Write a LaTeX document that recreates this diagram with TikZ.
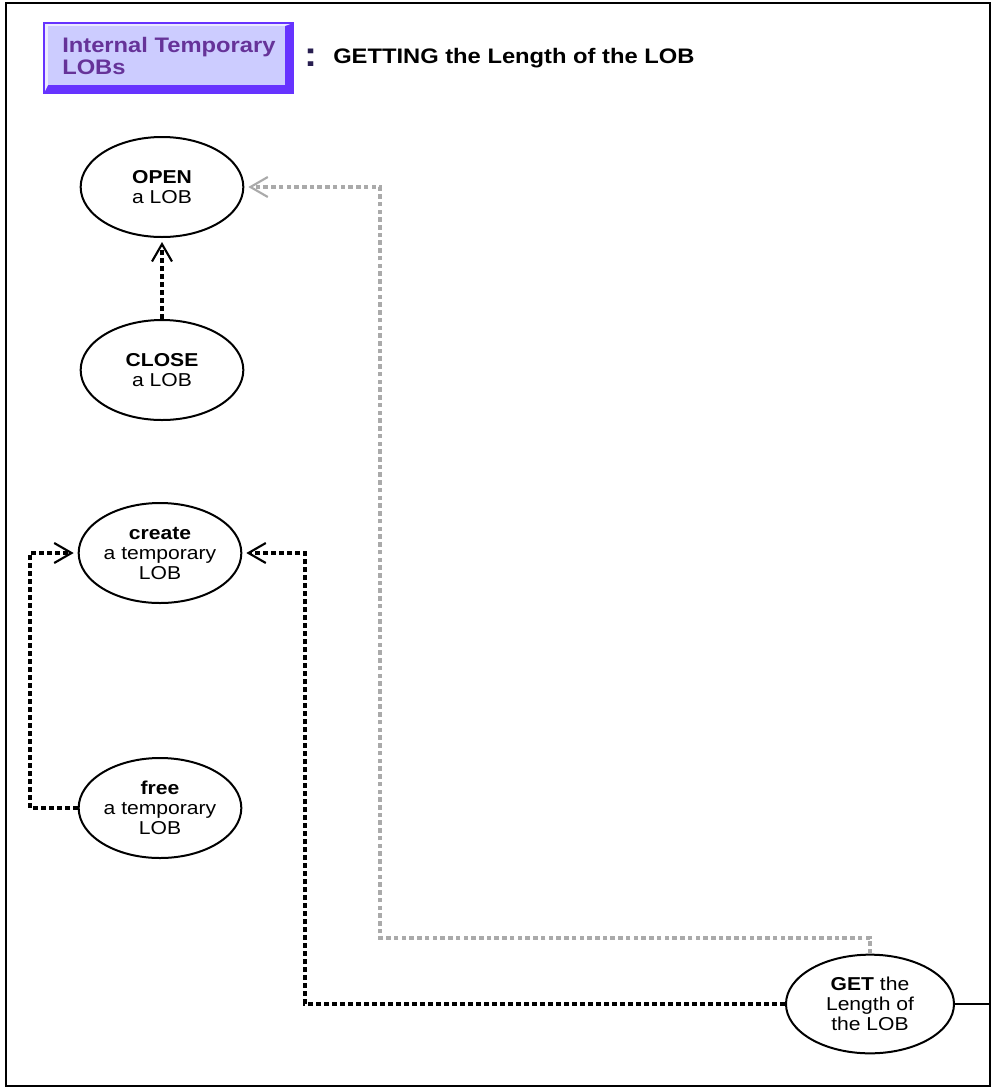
\documentclass[tikz,border=0pt]{standalone}
\usepackage{fontspec}
\usepackage{xcolor}
\usetikzlibrary{shapes.geometric,arrows.meta,positioning}
\newfontfamily\lobfont[FakeStretch=1.13]{Liberation Sans}
\definecolor{lobface}{RGB}{204,204,255}
\definecolor{lobdark}{RGB}{102,51,255}
\definecolor{lobtext}{RGB}{102,51,153}
\definecolor{lobgray}{RGB}{170,170,170}
\definecolor{lobcolon}{RGB}{40,30,80}

\begin{document}
\begin{tikzpicture}[
    x=0.75pt, y=-0.75pt,
    usecase/.style={ellipse, draw, line width=1.5pt, minimum width=122pt, minimum height=75pt,
        inner sep=0pt, align=center, font=\lobfont\fontsize{14}{15}\selectfont},
    uses/.style={line width=3pt, dash pattern=on 3.6pt off 2.4pt,
        -{Straight Barb[length=13pt,width=15pt,line width=1.6pt]}, shorten >=3pt},
    greyuses/.style={uses, lobgray, line width=2.5pt, dash pattern=on 3.4pt off 2.4pt}
]
    \useasboundingbox (0,0) rectangle (993,1090);
    \draw[line width=2pt] (6,3) rectangle (990,1086);

    % Header button
    \fill[lobdark] (44,23) rectangle (293,93);
    \fill[white!60!lobface] (44,23) -- (293,23) -- (285,26) -- (48,26) -- (48,85) -- (44,93) -- cycle;
    \fill[lobface] (48,26) rectangle (285,85);
    \draw[lobdark, line width=0.8pt] (44,23) rectangle (293,93);
    \node[anchor=north west, inner sep=0pt, align=left, text=lobtext,
          font=\lobfont\fontsize{15.75}{16.5}\selectfont\bfseries] (hdr) at (62,37)
          {Internal Temporary\\LOBs};
    \node[anchor=west, inner sep=0pt, text=lobcolon,
          font=\lobfont\fontsize{26}{26}\selectfont\bfseries] (colon) at (304,58) {:};
    \node[anchor=west, inner sep=0pt,
          font=\lobfont\fontsize{15.75}{16.5}\selectfont\bfseries] (title) at (333,58)
          {GETTING the Length of the LOB};

    % Use cases
    \node[usecase] (open)   at (162,187) {\textbf{OPEN}\\a LOB};
    \node[usecase] (close)  at (162,370) {\textbf{CLOSE}\\a LOB};
    \node[usecase] (create) at (160,553) {\textbf{create}\\a temporary\\LOB};
    \node[usecase] (free)   at (160,808) {\textbf{free}\\a temporary\\LOB};
    \node[usecase, minimum width=126pt, minimum height=74pt] (get) at (870,1004)
          {\textbf{GET} the\\Length of\\the LOB};

    % Bend points
    \coordinate (g1) at (380,938);
    \coordinate (c1) at (305,553);
    \coordinate (c2) at (30,553);
    \coordinate (edge) at (990,1004);

    % Connectors
    \draw[uses] (close) -- (open);
    \draw[uses] (free.west) -| (c2) -- (create.west);
    \draw[uses] (get.west) -| (c1) -- (create.east);
    \draw[greyuses] (get.north) |- (g1) |- (open.east);
    \draw[line width=1.3pt] (get.east) -- (edge);
\end{tikzpicture}
\end{document}
